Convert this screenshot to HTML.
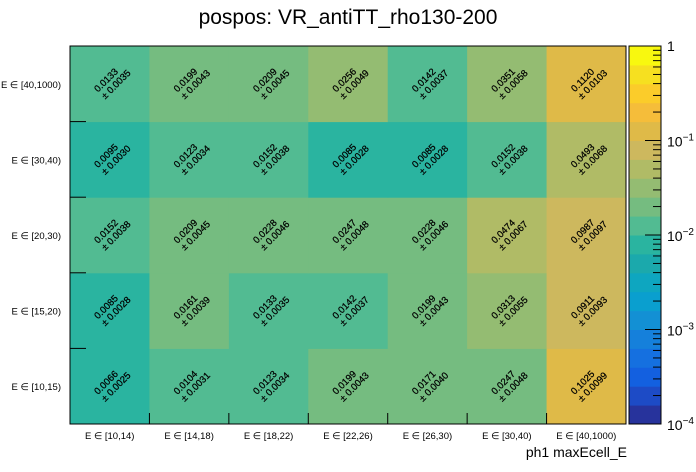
<!DOCTYPE html>
<html><head><meta charset="utf-8"><style>
body{margin:0;background:#fff;}
svg{display:block;font-family:"Liberation Sans",sans-serif;}
</style></head><body>
<svg id="c" width="696" height="472"></svg>
<script>
const xCats=["E ∈ [10,14)","E ∈ [14,18)","E ∈ [18,22)","E ∈ [22,26)","E ∈ [26,30)","E ∈ [30,40)","E ∈ [40,1000)"];
const yCats=["E ∈ [10,15)","E ∈ [15,20)","E ∈ [20,30)","E ∈ [30,40)","E ∈ [40,1000)"];
const values=[
[0.0066,0.0104,0.0123,0.0199,0.0171,0.0247,0.1025],
[0.0085,0.0161,0.0133,0.0142,0.0199,0.0313,0.0911],
[0.0152,0.0209,0.0228,0.0247,0.0228,0.0474,0.0987],
[0.0095,0.0123,0.0152,0.0085,0.0085,0.0152,0.0493],
[0.0133,0.0199,0.0209,0.0256,0.0142,0.0351,0.1120]];
const errors=[
[0.0025,0.0031,0.0034,0.0043,0.0040,0.0048,0.0099],
[0.0028,0.0039,0.0035,0.0037,0.0043,0.0055,0.0093],
[0.0038,0.0045,0.0046,0.0048,0.0046,0.0067,0.0097],
[0.0030,0.0034,0.0038,0.0028,0.0028,0.0038,0.0068],
[0.0035,0.0043,0.0045,0.0049,0.0037,0.0058,0.0103]];
const zTicks=[1,0.1,0.01,0.001,0.0001];
const zTickLabels=[["1",""],["10","−1"],["10","−2"],["10","−3"],["10","−4"]];
const palette=["#27339c","#1d4bc6","#1360e0","#1570e0","#1580db","#1390d4","#0a9fcf","#0ea6c0","#1ba9ac","#2ab4a0","#52bb92","#75bc80","#94bc72","#b0bb66","#cdb85e","#dfba48","#f5bd3a","#fbcc2a","#f6e020","#f8f80f"];
const svg=document.getElementById('c');const NS="http://www.w3.org/2000/svg";
function mk(t,a,p){const e=document.createElementNS(NS,t);for(const k in a)e.setAttribute(k,a[k]);(p||svg).appendChild(e);return e;}
const X0=70,X1=626,Y0=46,Y1=424,zMin=-4,zMax=0;
const cw=(X1-X0)/xCats.length,ch=(Y1-Y0)/yCats.length;
const xs=i=>X0+i*cw, ys=j=>Y1-(j+1)*ch;
const zt=v=>(Math.log10(v)-zMin)/(zMax-zMin);
const zy=v=>Y1-zt(v)*(Y1-Y0);
function col(v){let b=Math.floor(zt(v)*palette.length);b=Math.max(0,Math.min(palette.length-1,b));return palette[b];}
let t=mk('text',{x:348,y:24,'font-size':21,'text-anchor':'middle'});t.textContent="pospos: VR_antiTT_rho130-200";

for(let j=0;j<yCats.length;j++)for(let i=0;i<xCats.length;i++){
 const r=mk('rect',{x:xs(i),y:ys(j),width:cw+0.5,height:ch+0.5,fill:col(values[j][i])});
 
 const cx=xs(i)+cw/2,cy=ys(j)+ch/2;
 const g=mk('g',{transform:`translate(${cx},${cy}) rotate(-45)`,stroke:'#000','stroke-width':0.25});
 
 const a=mk('text',{x:0,y:-2,'font-size':9.5,'text-anchor':'middle'},g);a.textContent=values[j][i].toFixed(4);
 const b=mk('text',{x:4,y:8,'font-size':9.5,'text-anchor':'middle'},g);b.textContent="± "+errors[j][i].toFixed(4);
}
let f=mk('rect',{x:X0,y:Y0,width:X1-X0,height:Y1-Y0,fill:'none',stroke:'#000','stroke-width':1});

for(let i=0;i<xCats.length;i++){
 mk('line',{x1:xs(i),x2:xs(i),y1:Y1,y2:Y1-11,stroke:'#000'});
 const l=mk('text',{x:xs(i)+cw/2,y:439,'font-size':9.5,'text-anchor':'middle'});l.textContent=xCats[i];
 
}
for(let j=0;j<yCats.length;j++){
 mk('line',{x1:X0,x2:X0+16,y1:ys(j)+ch,y2:ys(j)+ch,stroke:'#000'});
 const l=mk('text',{x:61,y:ys(j)+ch/2+4,'font-size':9.5,'text-anchor':'end'});l.textContent=yCats[j];
 
}
t=mk('text',{x:627,y:457,'font-size':14,'text-anchor':'end'});t.textContent="ph1 maxEcell_E";

const CB0=629,CB1=661;const bh=(Y1-Y0)/palette.length;
palette.forEach((c,k)=>{const r=mk('rect',{x:CB0,y:Y1-(k+1)*bh,width:CB1-CB0,height:bh+0.5,fill:c});
 });
mk('rect',{x:CB0,y:Y0,width:CB1-CB0,height:Y1-Y0,fill:'none',stroke:'#000','stroke-width':1});
for(let d=-4;d<0;d++)for(let m=1;m<10;m++){const v=m*Math.pow(10,d);const y=zy(v);
 mk('line',{x1:CB1,x2:CB1-(m==1?16:8),y1:y,y2:y,stroke:'#000'});}
mk('line',{x1:CB1,x2:CB1-16,y1:Y0,y2:Y0,stroke:'#000'});
zTicks.forEach((v,k)=>{const y=zy(v);const l=mk('text',{x:667,y:y+(k==0?5:6),'font-size':14});
 
 l.textContent=zTickLabels[k][0];
 if(zTickLabels[k][1]){const s=mk('tspan',{dy:-6,'font-size':10},l);s.textContent=zTickLabels[k][1];}});
</script>
</body></html>
